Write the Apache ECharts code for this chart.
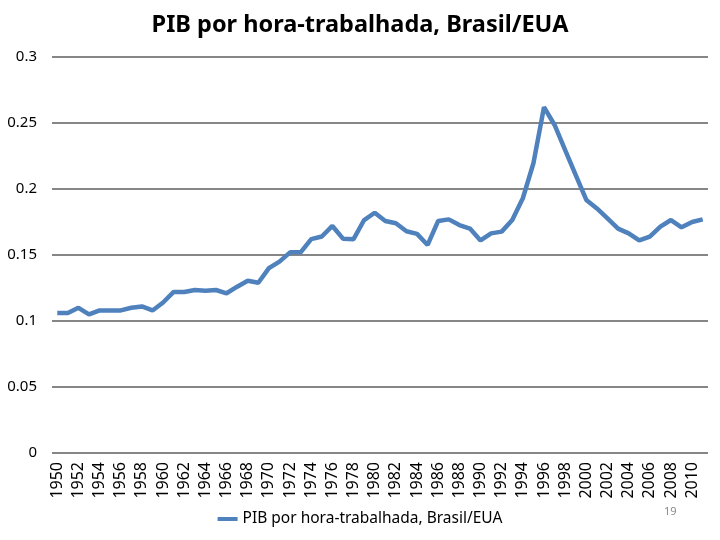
<!DOCTYPE html>
<html>
<head>
<meta charset="utf-8">
<script src="https://cdn.jsdelivr.net/npm/echarts@6/dist/echarts.min.js"></script>
<style>
  html, body { margin: 0; padding: 0; background: #fff; }
  #chart { width: 720px; height: 540px; }
</style>
</head>
<body>
<div id="chart"></div>
<script>
// anos 1950-2011
const years = []
for (let y = 1950; y <= 2011; y++) years.push(String(y))

// PIB por hora-trabalhada, Brasil/EUA
const ratio = [
  0.106, 0.106, 0.110, 0.105, 0.108, 0.108, 0.108, 0.110, 0.111, 0.108,
  0.114, 0.122, 0.122, 0.1235, 0.123, 0.1235, 0.121, 0.126, 0.1305, 0.129,
  0.140, 0.145, 0.152, 0.152, 0.162, 0.164, 0.172, 0.1624, 0.162, 0.1765,
  0.182, 0.1758, 0.174, 0.168, 0.166, 0.1576, 0.1758, 0.177, 0.1727, 0.170,
  0.161, 0.1664, 0.1677, 0.1765, 0.193, 0.2195, 0.262, 0.2485, 0.2295, 0.2106,
  0.1917, 0.1853, 0.1778, 0.170, 0.1664, 0.161, 0.164, 0.1715, 0.1765, 0.171,
  0.175, 0.177
]

const yTicks = { min: 0, max: 0.3, step: 0.05 }

const font = "'Noto Sans', sans-serif"

let box = document.querySelector("#chart")
let myChart = echarts.init(box)
let option = {
    animation: false,
    title: {
        text: 'PIB por hora-trabalhada, Brasil/EUA',
        left: 'center',
        top: 8,
        textStyle: {
            fontFamily: font,
            fontSize: 23.5,
            fontWeight: 'bold',
            color: '#000'
        }
    },
    legend: {
        bottom: 8,
        left: 'center',
        icon: 'rect',
        itemWidth: 20,
        itemHeight: 4,
        itemGap: 4,
        textStyle: {
            fontFamily: font,
            fontSize: 15.5,
            color: '#000'
        },
        data: ['PIB por hora-trabalhada, Brasil/EUA']
    },
    grid: {
        left: 52,
        right: 12,
        top: 57,
        bottom: 87,
        containLabel: false
    },
    xAxis: {
        type: 'category',
        data: years,
        boundaryGap: true,
        axisLine: { show: false },
        axisTick: { show: false },
        axisLabel: {
            interval: 1,
            rotate: 90,
            margin: 9,
            fontFamily: font,
            fontSize: 16,
            color: '#000'
        }
    },
    yAxis: {
        type: 'value',
        min: yTicks.min,
        max: yTicks.max,
        interval: yTicks.step,
        axisLine: { show: false },
        axisTick: { show: false },
        axisLabel: {
            margin: 15,
            fontFamily: font,
            fontSize: 15,
            color: '#000'
        },
        splitLine: {
            lineStyle: {
                color: '#868686',
                width: 2
            }
        }
    },
    graphic: [{
        type: 'text',
        left: 664,
        top: 506,
        style: {
            text: '19',
            fontFamily: font,
            fontSize: 11,
            fill: '#888'
        }
    }],
    series: [{
        name: 'PIB por hora-trabalhada, Brasil/EUA',
        type: 'line',
        data: ratio,
        showSymbol: false,
        lineStyle: {
            color: '#4F81BD',
            width: 4.5
        },
        itemStyle: {
            color: '#4F81BD'
        }
    }]
}
myChart.setOption(option)
</script>
</body>
</html>
